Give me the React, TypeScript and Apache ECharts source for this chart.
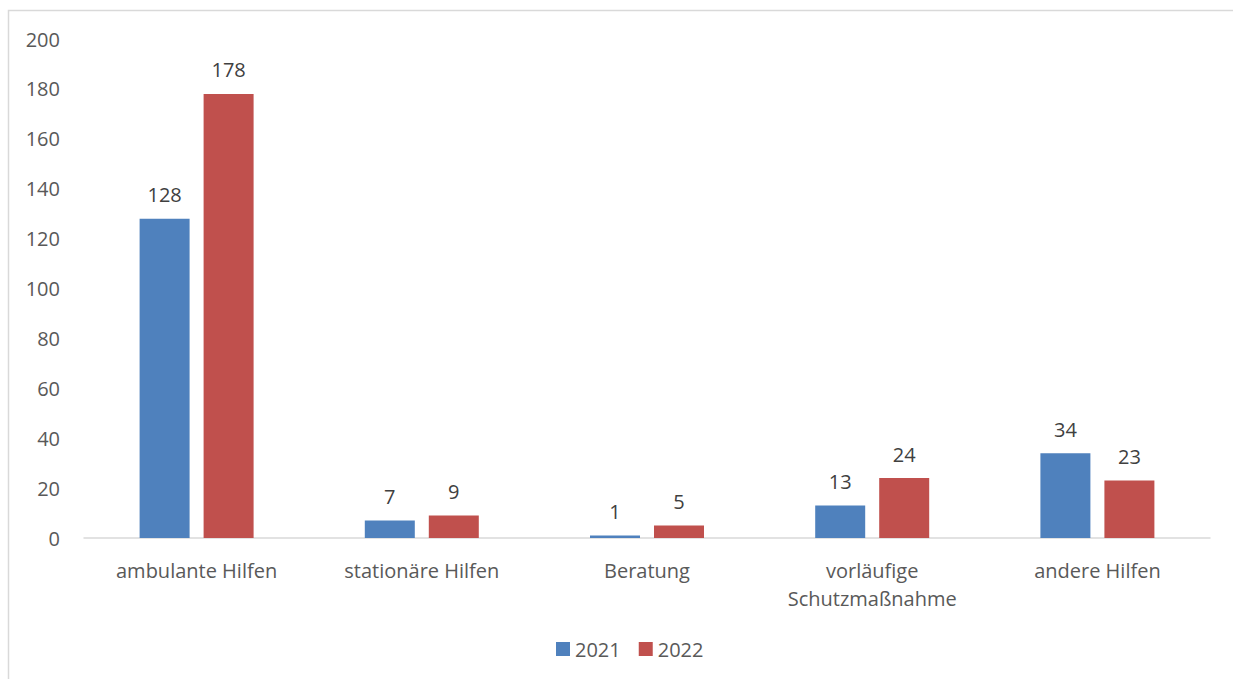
import React, { useEffect, useRef } from "react";
import * as echarts from "echarts";

const categories = ["ambulante Hilfen", "stationäre Hilfen", "Beratung", "vorläufige\nSchutzmaßnahme", "andere Hilfen"];
const values2021 = [128, 7, 1, 13, 34];
const values2022 = [178, 9, 5, 24, 23];
const seriesNames = ["2021", "2022"];

export default function App() {
  const ref = useRef<HTMLDivElement>(null);
  useEffect(() => {
    document.body.style.margin = "0";
    const chart = echarts.init(ref.current!, null, { renderer: "svg" });
    const font = "'Open Sans', 'Noto Sans', sans-serif";
    const labelStyle = {
      show: true,
      position: "top" as const,
      distance: 14,
      color: "#404040",
      fontSize: 20,
      fontFamily: font,
    };
    chart.setOption({
      animation: false,
      backgroundColor: "#ffffff",
      graphic: [
        {
          type: "rect",
          shape: { x: 8.5, y: 10.5, width: 1400, height: 800 },
          style: { fill: "none", stroke: "#d9d9d9", lineWidth: 1.5 },
          silent: true,
        },
      ],
      grid: { left: 84, right: 23, top: 39, bottom: 141 },
      legend: {
        data: seriesNames,
        bottom: 15,
        left: 551,
        itemWidth: 14,
        itemHeight: 14,
        itemGap: 18,
        icon: "rect",
        textStyle: { color: "#595959", fontSize: 20, fontFamily: font },
      },
      xAxis: {
        type: "category",
        data: categories,
        axisLine: { lineStyle: { color: "#d9d9d9", width: 1.5 } },
        axisTick: { show: false },
        axisLabel: {
          color: "#595959",
          fontSize: 20,
          fontFamily: font,
          margin: 18,
          lineHeight: 28,
          interval: 0,
        },
      },
      yAxis: {
        type: "value",
        min: 0,
        max: 200,
        interval: 20,
        splitLine: { show: false },
        axisLine: { show: false },
        axisTick: { show: false },
        axisLabel: { color: "#595959", fontSize: 20, fontFamily: font, margin: 24 },
      },
      series: [
        {
          name: seriesNames[0],
          type: "bar",
          data: values2021,
          barWidth: 50,
          barGap: "28%",
          itemStyle: { color: "#4F81BD" },
          label: labelStyle,
        },
        {
          name: seriesNames[1],
          type: "bar",
          data: values2022,
          barWidth: 50,
          itemStyle: { color: "#C0504D" },
          label: labelStyle,
        },
      ],
    });
    return () => chart.dispose();
  }, []);
  return <div ref={ref} style={{ width: 1233, height: 679 }} />;
}
